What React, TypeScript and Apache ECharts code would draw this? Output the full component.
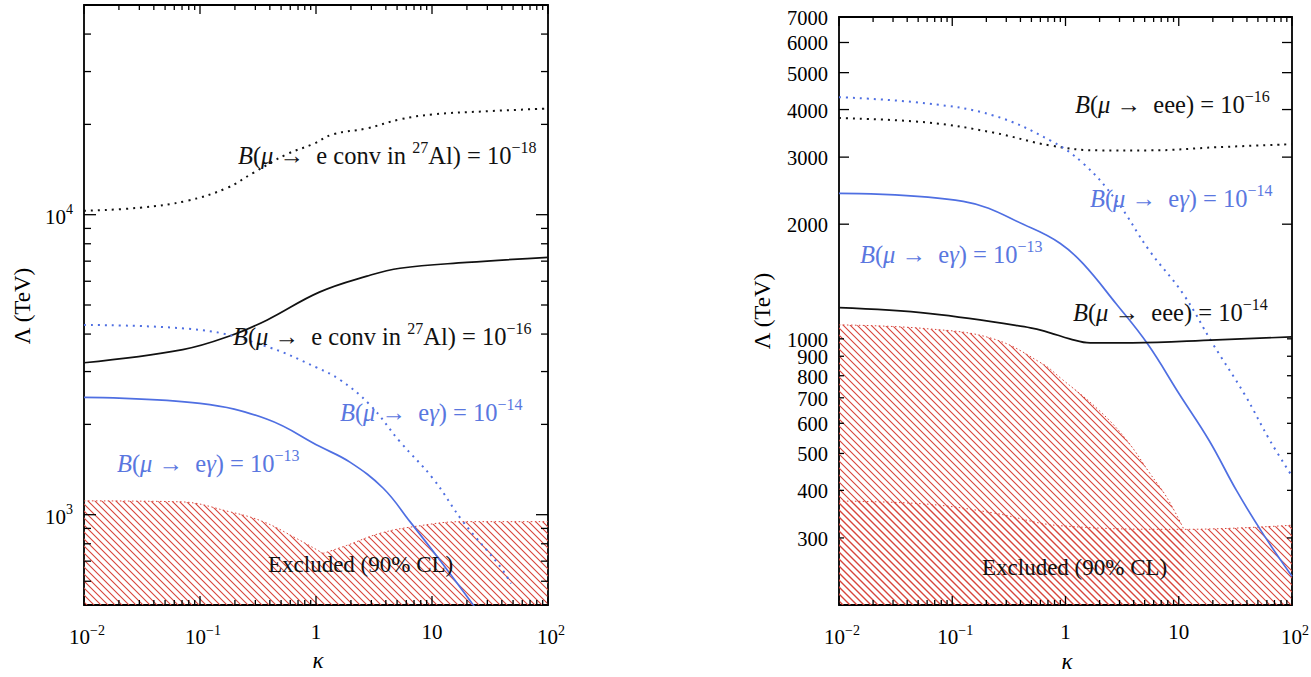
import React, { useEffect, useRef } from 'react';
import * as echarts from 'echarts';

const FAMILY = 'Liberation Serif';
const BLACK = '#111111';
const BLUE = '#4f6fe2';
const BLUE_TEXT = '#5a77df';
const RED = '#d8453b';

// ---------- Axis ticks ----------
const kappaMajor = [0.01, 0.1, 1, 10, 100];
const kappaLabels = ['10^−2', '10^−1', '1', '10', '10^2'];
const kappaMinor = [0.02, 0.03, 0.04, 0.05, 0.06, 0.07, 0.08, 0.09, 0.2, 0.3, 0.4, 0.5, 0.6, 0.7, 0.8, 0.9, 2, 3, 4, 5, 6, 7, 8, 9, 20, 30, 40, 50, 60, 70, 80, 90];

const leftYMajor = [1000, 10000];
const leftYLabels = ['10^3', '10^4'];
const leftYMinor = [600, 700, 800, 900, 2000, 3000, 4000, 5000, 6000, 7000, 8000, 9000, 20000, 30000, 40000];

const rightYLong = [2000, 3000, 4000, 5000, 6000, 7000];
const rightYShort = [300, 400, 500, 600, 700, 800, 900, 1000];
const rightYLabelsLong = ['2000', '3000', '4000', '5000', '6000', '7000'];
const rightYLabelsShort = ['300', '400', '500', '600', '700', '800', '900', '1000'];

const leftYRange = [500, 50000];
const rightYRange = [200, 7000];
const kappaRange = [0.01, 100];

// ---------- Left panel: [kappa, Lambda (TeV)] ----------
const convAl18 = [[0.01, 10300], [0.03, 10550], [0.077, 11120], [0.171, 12280], [0.286, 13770], [0.562, 15920], [0.94, 17180], [1.4, 18530], [2.75, 19400], [5.3, 20790], [10.2, 21590], [27.5, 22090], [100, 22590]];
const convAl16 = [[0.01, 3210], [0.071, 3550], [0.19, 3970], [0.38, 4460], [1.07, 5520], [2.75, 6240], [5.3, 6630], [20, 6930], [100, 7210]];
const megL14 = [[0.01, 4290], [0.1, 4130], [0.38, 3630], [1.02, 3090], [1.6, 2820], [2.9, 2330], [5.3, 1750], [10.2, 1320], [18.5, 948], [38, 678], [48, 590]];
const megL13 = [[0.01, 2460], [0.1, 2350], [0.38, 2080], [1.07, 1690], [1.96, 1497], [3.8, 1225], [6.46, 948], [11.7, 705], [22.1, 507], [24, 485]];
const exclLA = [[0.01, 1112], [0.067, 1104], [0.18, 1023], [0.35, 948], [0.68, 833], [1.15, 743]];
const exclLB = [[1.15, 743], [1.84, 790], [3.5, 865], [6.9, 912], [18.5, 948], [100, 948]];

// ---------- Right panel ----------
const eee16 = [[0.01, 3800], [0.06, 3700], [0.23, 3480], [0.73, 3220], [2, 3125], [5.5, 3125], [21.7, 3185], [100, 3245]];
const megR14 = [[0.01, 4310], [0.06, 4150], [0.23, 3860], [0.73, 3320], [1.43, 2890], [2.8, 2310], [5.5, 1705], [10.9, 1314], [20, 970], [38, 716], [64, 540], [100, 436]];
const megR13 = [[0.01, 2410], [0.125, 2295], [0.49, 1960], [0.9, 1780], [1.43, 1575], [2.8, 1236], [5.3, 970], [10.2, 713], [18.6, 540], [32.6, 398], [55.7, 307], [100, 238]];
const eee14 = [[0.01, 1207], [0.064, 1165], [0.49, 1069], [0.73, 1037], [1.09, 1000], [1.65, 976], [3.9, 976], [21.7, 994], [100, 1012]];
const exclRA = [[0.01, 1088], [0.06, 1063], [0.23, 1000], [0.63, 859], [0.9, 790], [2, 647], [3.5, 540], [5.6, 442], [7.9, 382], [11.1, 316]];
const exclRB = [[0.01, 375], [0.06, 368], [0.23, 349], [0.9, 323], [11.1, 316], [100, 324]];

// ---------- Text helpers ----------
const tok = (size: number, color: string, italic: boolean, lh: number, top: boolean) => ({
  font: `${italic ? 'italic ' : ''}${size}px "${FAMILY}"`,
  fontFamily: FAMILY,
  fontSize: size,
  fontStyle: italic ? 'italic' : 'normal',
  fill: color,
  color,
  lineHeight: lh,
  ...(top ? { verticalAlign: 'top' } : {}),
});

const richFor = (size: number, color: string) => ({
  r: tok(size, color, false, Math.round(size * 1.3), false),
  i: tok(size, color, true, Math.round(size * 1.3), false),
  s: tok(Math.round(size * 0.66), color, false, Math.round(size * 0.7), true),
});

const convText = (exp: string) => `{i|B}{r|(}{i|μ}{r| →  e conv in }{s|27}{r|Al) = 10}{s|−${exp}}`;
const megText = (exp: string) => `{i|B}{r|(}{i|μ}{r| →  e}{i|γ}{r|) = 10}{s|−${exp}}`;
const eeeText = (exp: string) => `{i|B}{r|(}{i|μ}{r| →  eee) = 10}{s|−${exp}}`;

const annotations = [
  { text: convText('18'), x: 238, y: 155, color: BLACK, size: 24.5 },
  { text: convText('16'), x: 233, y: 336, color: BLACK, size: 24.5 },
  { text: megText('14'), x: 340, y: 412, color: BLUE_TEXT, size: 24.5 },
  { text: megText('13'), x: 117, y: 463, color: BLUE_TEXT, size: 24.5 },
  { text: '{r|Excluded (90% CL)}', x: 268, y: 564, color: BLACK, size: 23 },
  { text: eeeText('16'), x: 1075, y: 104, color: BLACK, size: 24.5 },
  { text: megText('14'), x: 1090, y: 198, color: BLUE_TEXT, size: 24.5 },
  { text: megText('13'), x: 860, y: 254, color: BLUE_TEXT, size: 24.5 },
  { text: eeeText('14'), x: 1073, y: 312, color: BLACK, size: 24.5 },
  { text: '{r|Excluded (90% CL)}', x: 982, y: 567, color: BLACK, size: 23 },
];

const supLabel = (s: string) => {
  const [b, sup] = s.split('^');
  return sup ? `{b|${b}}{s|${sup}}` : `{b|${b}}`;
};
const tickRich = {
  b: tok(21, '#000', false, 28, false),
  s: tok(14, '#000', false, 14, true),
};
const tickRichTight = {
  b: tok(20.5, '#000', false, 16, false),
  s: tok(14, '#000', false, 10, true),
};

function xTickSeries(idx: number, yMin: number, yMax: number) {
  const data = kappaMajor.map((v, i) => [v, yMin, 1, i]).concat(kappaMinor.map((v) => [v, yMin, 0, -1]));
  return {
    type: 'custom',
    xAxisIndex: idx,
    yAxisIndex: idx,
    coordinateSystem: 'cartesian2d',
    clip: false,
    z: 6,
    encode: { x: 0, y: 1 },
    data,
    renderItem: (_p: any, api: any) => {
      const k = api.value(0);
      const major = api.value(2) === 1;
      const li = api.value(3);
      const len = major ? 9 : 5;
      const b = api.coord([k, yMin]);
      const t = api.coord([k, yMax]);
      const st = { stroke: '#000', lineWidth: 1.3 };
      const children: any[] = [
        { type: 'line', shape: { x1: b[0], y1: b[1], x2: b[0], y2: b[1] - len }, style: st },
        { type: 'line', shape: { x1: t[0], y1: t[1], x2: t[0], y2: t[1] + len }, style: st },
      ];
      if (major && li >= 0) {
        const lab = kappaLabels[li];
        children.push({
          type: 'text',
          x: b[0] + (lab.includes('^') ? 3 : 0),
          y: b[1] + (lab.includes('^') ? 32 : 27),
          style: { text: supLabel(lab), rich: tickRich, font: `21px "${FAMILY}"`, align: 'center', verticalAlign: 'middle' },
        });
      }
      return { type: 'group', children };
    },
  };
}

function yTickSeries(idx: number, groups: { vals: number[]; labels: string[] | null; len: number }[]) {
  const data: number[][] = [];
  groups.forEach((g, gi) => g.vals.forEach((v, i) => data.push([kappaRange[0], v, gi, g.labels ? i : -1])));
  return {
    type: 'custom',
    xAxisIndex: idx,
    yAxisIndex: idx,
    coordinateSystem: 'cartesian2d',
    clip: false,
    z: 6,
    encode: { x: 0, y: 1 },
    data,
    renderItem: (_p: any, api: any) => {
      const v = api.value(1);
      const g = groups[api.value(2)];
      const li = api.value(3);
      const l = api.coord([kappaRange[0], v]);
      const r = api.coord([kappaRange[1], v]);
      const st = { stroke: '#000', lineWidth: 1.3 };
      const children: any[] = [
        { type: 'line', shape: { x1: l[0], y1: l[1], x2: l[0] + g.len, y2: l[1] }, style: st },
        { type: 'line', shape: { x1: r[0], y1: r[1], x2: r[0] - g.len, y2: r[1] }, style: st },
      ];
      if (g.labels && li >= 0) {
        const lab = g.labels[li];
        const hasSup = lab.includes('^');
        children.push({
          type: 'text',
          x: l[0] - 11,
          y: l[1] + (hasSup ? 2 : 1),
          style: { text: supLabel(lab), rich: hasSup ? tickRich : tickRichTight, font: `21px "${FAMILY}"`, align: 'right', verticalAlign: 'middle' },
        });
      }
      return { type: 'group', children };
    },
  };
}

function buildOption(pattern: any) {
  const line = (data: number[][], idx: number, color: string, dotted: boolean) => ({
    type: 'line',
    xAxisIndex: idx,
    yAxisIndex: idx,
    data,
    symbol: 'none',
    smooth: 0.4,
    lineStyle: { color, width: dotted ? 2 : 1.7, type: dotted ? [2, 5] : 'solid' },
    z: 4,
  });
  const hatch = (data: number[][], idx: number) => ({
    type: 'line',
    xAxisIndex: idx,
    yAxisIndex: idx,
    data,
    symbol: 'none',
    smooth: 0.4,
    lineStyle: { color: RED, width: 1, type: [1.5, 2.5] },
    areaStyle: { color: pattern, opacity: 1, origin: 'start' },
    z: 2,
  });
  const hidden = { axisLine: { show: false }, axisTick: { show: false }, axisLabel: { show: false }, splitLine: { show: false } };
  const gridStyle = { show: true, borderColor: '#000', borderWidth: 1.8, backgroundColor: 'transparent' };

  const graphic: any[] = annotations.map((a) => ({
    type: 'text',
    x: a.x,
    y: a.y,
    z: 100,
    style: { text: a.text, rich: richFor(a.size, a.color), font: `${a.size}px "${FAMILY}"`, fill: a.color, align: 'left', verticalAlign: 'middle' },
  }));
  const title = (text: string, x: number, y: number, rot: number, italic: boolean) => ({
    type: 'text',
    x,
    y,
    rotation: rot,
    z: 100,
    style: {
      text,
      font: `${italic ? 'italic ' : ''}23px "${FAMILY}"`,
      fill: '#000',
      align: 'center',
      verticalAlign: 'middle',
    },
  });
  graphic.push(title('Λ (TeV)', 22, 306, Math.PI / 2, false));
  graphic.push(title('Λ (TeV)', 762, 311, Math.PI / 2, false));
  graphic.push(title('κ', 318, 660, 0, true));
  graphic.push(title('κ', 1067, 661, 0, true));

  return {
    animation: false,
    backgroundColor: '#ffffff',
    grid: [
      { left: 84, top: 5, width: 464, height: 600, ...gridStyle },
      { left: 839, top: 17, width: 453, height: 588, ...gridStyle },
    ],
    xAxis: [
      { type: 'log', logBase: 10, min: kappaRange[0], max: kappaRange[1], gridIndex: 0, ...hidden },
      { type: 'log', logBase: 10, min: kappaRange[0], max: kappaRange[1], gridIndex: 1, ...hidden },
    ],
    yAxis: [
      { type: 'log', logBase: 10, min: leftYRange[0], max: leftYRange[1], gridIndex: 0, ...hidden },
      { type: 'log', logBase: 10, min: rightYRange[0], max: rightYRange[1], gridIndex: 1, ...hidden },
    ],
    series: [
      hatch(exclLA, 0),
      hatch(exclLB, 0),
      line(convAl18, 0, BLACK, true),
      line(convAl16, 0, BLACK, false),
      line(megL14, 0, BLUE, true),
      line(megL13, 0, BLUE, false),
      hatch(exclRB, 1),
      hatch(exclRA, 1),
      line(eee16, 1, BLACK, true),
      line(megR14, 1, BLUE, true),
      line(megR13, 1, BLUE, false),
      line(eee14, 1, BLACK, false),
      xTickSeries(0, leftYRange[0], leftYRange[1]),
      xTickSeries(1, rightYRange[0], rightYRange[1]),
      yTickSeries(0, [
        { vals: leftYMajor, labels: leftYLabels, len: 12 },
        { vals: leftYMinor, labels: null, len: 7 },
      ]),
      yTickSeries(1, [
        { vals: rightYLong, labels: rightYLabelsLong, len: 10 },
        { vals: rightYShort, labels: rightYLabelsShort, len: 5 },
      ]),
    ],
    graphic,
  };
}

export default function App() {
  const ref = useRef<HTMLDivElement>(null);
  useEffect(() => {
    const c = document.createElement('canvas');
    c.width = 7;
    c.height = 7;
    const ctx = c.getContext('2d')!;
    ctx.strokeStyle = RED;
    ctx.lineWidth = 1.1;
    ctx.beginPath();
    ctx.moveTo(-1, -1);
    ctx.lineTo(8, 8);
    ctx.moveTo(-1, 6);
    ctx.lineTo(1, 8);
    ctx.moveTo(6, -1);
    ctx.lineTo(8, 1);
    ctx.stroke();
    const pattern = { image: c, repeat: 'repeat', imageWidth: 7, imageHeight: 7 };
    const chart = echarts.init(ref.current!, null, { renderer: 'svg' });
    chart.setOption(buildOption(pattern) as any);
    return () => chart.dispose();
  }, []);
  return <div ref={ref} style={{ position: 'absolute', left: 0, top: 0, width: 1311, height: 677, background: '#fff' }} />;
}
